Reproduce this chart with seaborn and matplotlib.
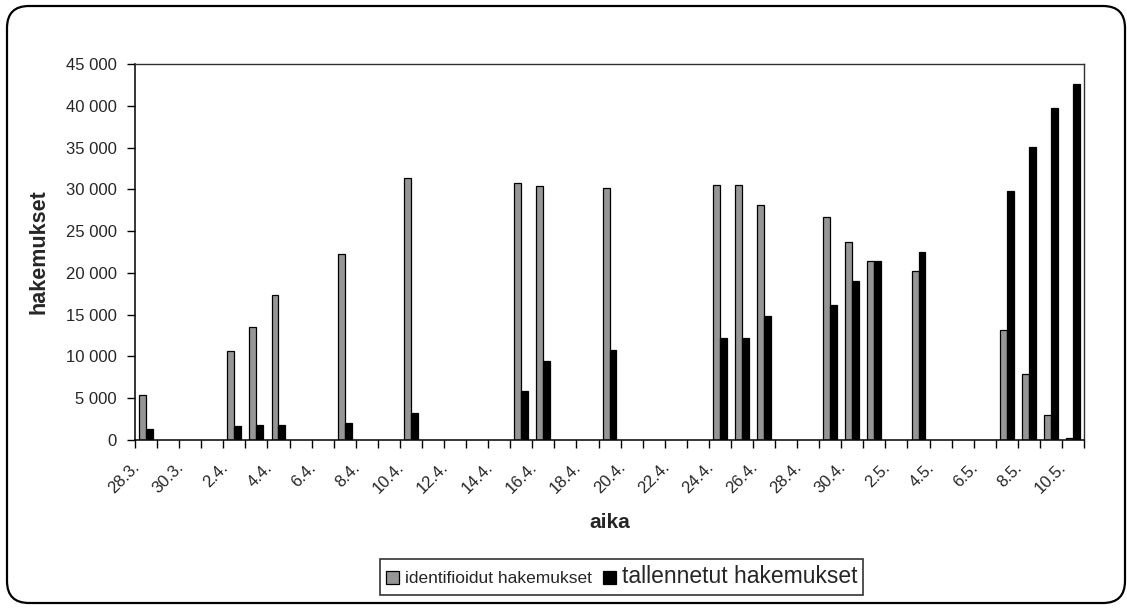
import numpy as np
import pandas as pd
import matplotlib
matplotlib.use('Agg')
import matplotlib.pyplot as plt
import matplotlib.transforms as mtransforms
import seaborn as sns
from matplotlib.patches import FancyBboxPatch
from matplotlib.ticker import FuncFormatter, MultipleLocator

# every day on the category axis (labels shown on every second one)
days = ['28.3.', '29.3.', '30.3.', '31.3.',
        '2.4.', '3.4.', '4.4.', '5.4.', '6.4.', '7.4.', '8.4.', '9.4.', '10.4.',
        '11.4.', '12.4.', '13.4.', '14.4.', '15.4.', '16.4.', '17.4.', '18.4.',
        '19.4.', '20.4.', '21.4.', '22.4.', '23.4.', '24.4.', '25.4.', '26.4.',
        '27.4.', '28.4.', '29.4.', '30.4.',
        '1.5.', '2.5.', '3.5.', '4.5.', '5.5.', '6.5.', '7.5.', '8.5.', '9.5.', '10.5.']

# days that have data
bar_days = ['28.3.', '2.4.', '3.4.', '4.4.', '7.4.', '10.4.', '15.4.', '16.4.',
            '19.4.', '24.4.', '25.4.', '26.4.', '29.4.', '30.4.', '1.5.', '3.5.',
            '7.5.', '8.5.', '9.5.', '10.5.']
identified = [5400, 10700, 13550, 17400, 22300, 31400, 30750, 30350,
              30150, 30550, 30550, 28100, 26750, 23700, 21450, 20200,
              13150, 7850, 3000, 200]
saved = [1350, 1650, 1800, 1800, 2000, 3250, 5900, 9500,
         10800, 12200, 12200, 14800, 16200, 19050, 21450, 22450,
         29750, 35100, 39750, 42550]

series_names = ['identifioidut hakemukset', 'tallennetut hakemukset']

df = pd.concat([
    pd.DataFrame({'aika': bar_days, 'hakemukset': identified, 'sarja': series_names[0]}),
    pd.DataFrame({'aika': bar_days, 'hakemukset': saved, 'sarja': series_names[1]}),
])

sns.set_style('white')
plt.rcParams['font.family'] = ['Liberation Sans', 'DejaVu Sans']

fig = plt.figure(figsize=(11.27, 6.08), dpi=100)
ax = fig.add_axes([0.1198, 0.2763, 0.8421, 0.6184])

sns.barplot(data=df, x='aika', y='hakemukset', hue='sarja', order=days,
            hue_order=series_names, palette=['#969696', '#000000'],
            width=0.63, edgecolor='black', linewidth=0.9, errorbar=None,
            saturation=1, ax=ax)

ax.set_xlim(-0.5, len(days) - 0.5)
ax.set_ylim(0, 45000)
ax.yaxis.set_major_locator(MultipleLocator(5000))
ax.yaxis.set_major_formatter(FuncFormatter(lambda v, p: f'{v:,.0f}'.replace(',', ' ')))

# labels on every second day, tick marks between categories
ax.set_xticks(np.arange(0, len(days), 2))
ax.set_xticklabels(days[::2], rotation=45, ha='right', va='center',
                   rotation_mode='anchor', fontsize=12)
ax.set_xticks(np.arange(-0.5, len(days), 1), minor=True)
ax.tick_params(axis='x', which='major', length=0, pad=18)
ax.tick_params(axis='x', which='minor', length=6, width=1, color='black', direction='out')
ax.tick_params(axis='y', length=6, width=1, color='black', direction='out', pad=7,
               labelsize=12)
ax.tick_params(axis='both', which='both', bottom=True, left=True)

# shift the rotated labels a little left, like the original
shift = mtransforms.ScaledTranslation(-9 / 100, 0, fig.dpi_scale_trans)
for lab in ax.get_xticklabels():
    lab.set_transform(lab.get_transform() + shift)

for side in ['left', 'bottom']:
    ax.spines[side].set_color('black')
    ax.spines[side].set_linewidth(1.1)
for side in ['top', 'right']:
    ax.spines[side].set_visible(True)
    ax.spines[side].set_color('#303030')
    ax.spines[side].set_linewidth(1.0)

ax.set_xlabel('aika', fontsize=15, fontweight='bold', labelpad=12)
ax.set_ylabel('hakemukset', fontsize=15.5, fontweight='bold', labelpad=12)

handles, labels = ax.get_legend_handles_labels()
ax.get_legend().remove()
leg = fig.legend(handles, labels, loc='center', bbox_to_anchor=(0.5518, 0.051),
                 ncol=2, fontsize=12.5, frameon=True, fancybox=False,
                 edgecolor='black', handlelength=0.75, handleheight=0.75,
                 handletextpad=0.35, columnspacing=0.6, borderpad=0.35)
leg.get_frame().set_linewidth(1.2)
leg.get_texts()[1].set_fontsize(16.5)

# rounded outer frame of the chart
frame = FancyBboxPatch((7, 5), 1118, 597, boxstyle='round,pad=0,rounding_size=22',
                       transform=None, fill=False, edgecolor='black', linewidth=1.6)
fig.add_artist(frame)

fig.savefig('out.png', dpi=100)
